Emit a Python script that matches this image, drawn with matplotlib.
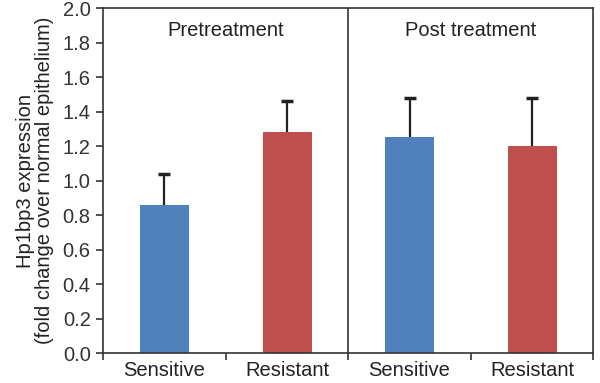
import matplotlib.pyplot as plt
import numpy as np

plt.rcParams["font.family"] = ["Liberation Sans", "DejaVu Sans"]

categories = ["Sensitive", "Resistant", "Sensitive", "Resistant"]
groups = ["Pretreatment", "Post treatment"]
means = [0.86, 1.28, 1.25, 1.20]
errors = [0.18, 0.18, 0.23, 0.28]
colors = ["#4F81BD", "#C0504D", "#4F81BD", "#C0504D"]

fig = plt.figure(figsize=(6, 3.83), dpi=100)
ax = fig.add_axes([0.172, 0.078, 0.817, 0.901])

x = np.arange(len(categories))
ax.bar(x, means, width=0.4, color=colors, zorder=2)
eb = ax.errorbar(x, means, yerr=[np.zeros(len(errors)), errors], fmt="none",
                 ecolor="#222222", elinewidth=1.6, capsize=4, capthick=2.5, zorder=1)
eb[1][0].set_visible(False)  # hide lower caps

ax.set_xlim(-0.5, 3.5)
ax.set_ylim(0, 2.0)
yt = np.arange(0, 2.01, 0.2)
ax.set_yticks(yt)
ax.set_yticklabels([f"{v:.1f}" for v in yt])
ax.set_xticks(x)
ax.set_xticklabels(categories)
ax.set_xticks([-0.5, 0.5, 1.5, 2.5, 3.5], minor=True)
ax.tick_params(axis="x", which="major", length=0, labelsize=14.5, pad=6,
               labelcolor="#222222")
ax.tick_params(axis="x", which="minor", length=5, width=1.2, direction="out",
               color="#333333")
ax.tick_params(axis="y", labelsize=14.5, length=5, width=1.2, color="#333333",
               labelcolor="#333333", pad=4)

for s in ax.spines.values():
    s.set_color("#333333")
    s.set_linewidth(1.2)

ax.axvline(1.5, color="#333333", linewidth=1.2)

ax.text(0.5, 1.87, groups[0], ha="center", va="center", fontsize=14.5,
        color="#222222")
ax.text(2.5, 1.87, groups[1], ha="center", va="center", fontsize=14.5,
        color="#222222")

ax.set_ylabel("Hp1bp3 expression\n(fold change over normal epithelium)",
              fontsize=14.5, labelpad=6, color="#222222", linespacing=1.05)

fig.savefig("out.png", dpi=100)
